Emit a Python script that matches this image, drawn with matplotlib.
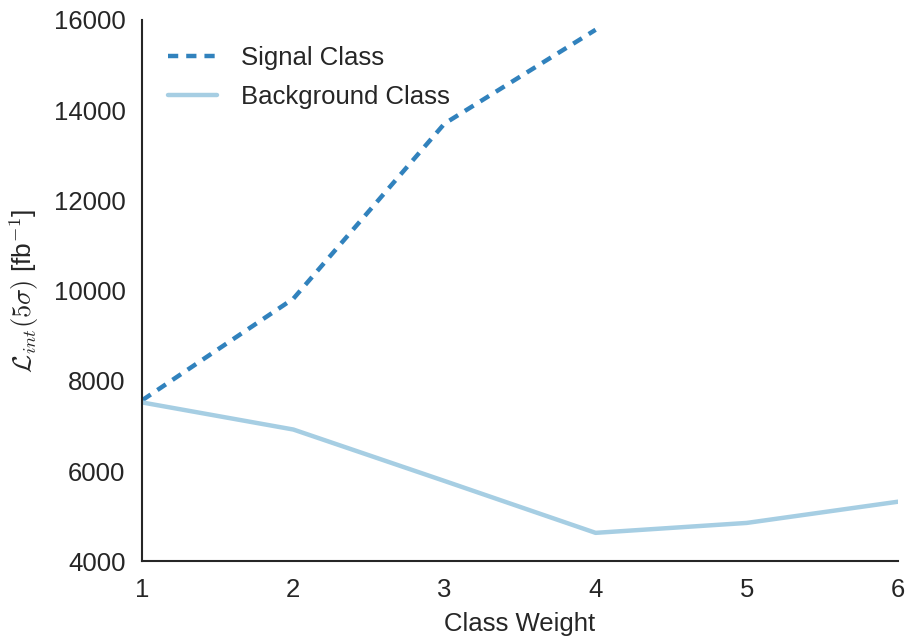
import matplotlib
matplotlib.use("Agg")
import matplotlib.pyplot as plt
import seaborn as sns

weights_sig = [1, 2, 3, 4]
lumi_sig = [7570, 9820, 13700, 15780]
weights_bkg = [1, 2, 3, 4, 5, 6]
lumi_bkg = [7520, 6920, 5780, 4630, 4850, 5320]

sns.set_style("white")
plt.rcParams['font.family'] = ['Liberation Sans', 'DejaVu Sans']
plt.rcParams['mathtext.fontset'] = 'cm'

fig, ax = plt.subplots(figsize=(9.06, 6.4), dpi=100)
fig.subplots_adjust(left=0.157, right=0.991, top=0.969, bottom=0.123)

ax.plot(weights_sig, lumi_sig, ls='--', dashes=(2.3, 1.8), color='#3182bd', lw=3.2, label='Signal Class')
ax.plot(weights_bkg, lumi_bkg, ls='-', color='#a6cee3', lw=3.2, label='Background Class')

ax.set_xlim(1, 6)
ax.set_ylim(4000, 16000)
ax.set_xticks([1, 2, 3, 4, 5, 6])
ax.set_yticks(range(4000, 16001, 2000))
ax.tick_params(labelsize=18.5, length=3, color='#333333', direction='in', pad=12, labelcolor='#262626')
ax.set_xlabel('Class Weight', fontsize=18.5, color='#262626', labelpad=7)
ax.set_ylabel(r'$\mathcal{L}_{int}(5\sigma)$ [fb$^{-1}$]', fontsize=19, color='#262626', labelpad=9)
for s in ['top', 'right']:
    ax.spines[s].set_visible(False)
for s in ['left', 'bottom']:
    ax.spines[s].set_color('#262626')
    ax.spines[s].set_linewidth(1.5)

leg = ax.legend(loc='upper left', fontsize=18.5, frameon=False, handlelength=1.9,
                borderaxespad=0.6, labelspacing=0.6, handletextpad=0.95)
for t in leg.get_texts():
    t.set_color('#262626')

fig.savefig('out.png', dpi=100)
